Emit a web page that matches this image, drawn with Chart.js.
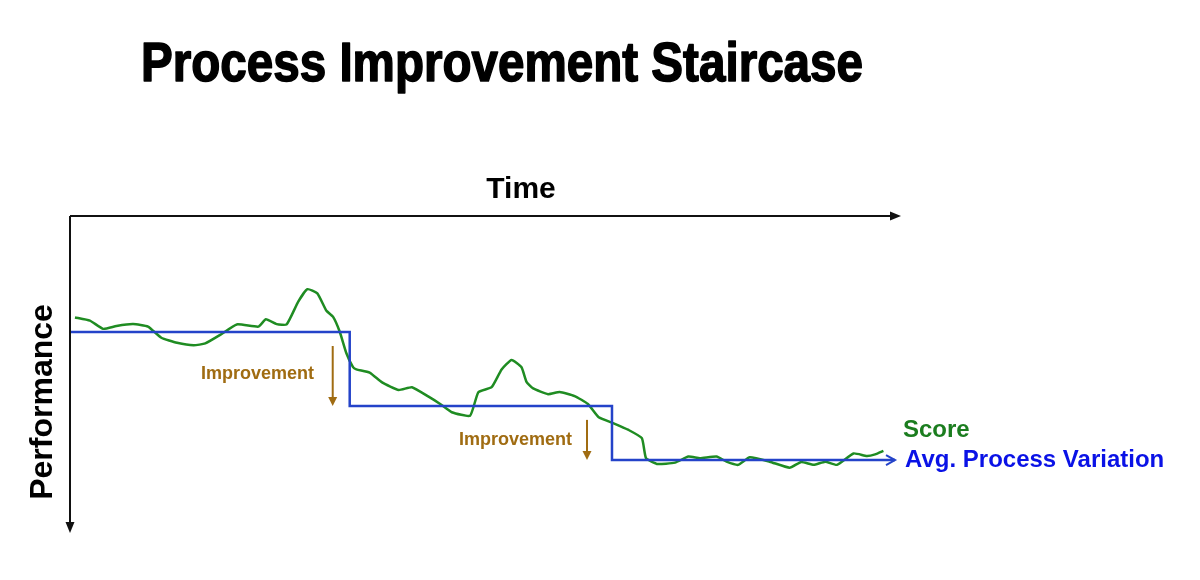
<!DOCTYPE html>
<html>
<head>
<meta charset="utf-8">
<title>Process Improvement Staircase</title>
<script src="https://cdn.jsdelivr.net/npm/chart.js@4.4.1/dist/chart.umd.min.js"></script>
<style>
  html, body { margin: 0; padding: 0; background: #fff; }
  #wrap { width: 1200px; height: 580px; }
</style>
</head>
<body>
<div id="wrap"><canvas id="myChart" width="1200" height="580"></canvas></div>
<script>
/*------------------------------DATA--------------------------------------------*/

// time axis runs 0..100, performance axis runs 0..100 downwards
const timeX = [
    0.6, 2.4, 4.0, 5.6, 7.6, 9.4, 11.0, 12.9, 14.9, 16.3,
    18.1, 20.1, 22.7, 23.6, 24.9, 26.1, 27.5, 28.6, 29.8, 30.9,
    31.7, 32.5, 33.3, 34.1, 34.5, 36.1, 37.6, 39.6, 41.2, 43.2,
    44.6, 46.0, 48.2, 49.2, 50.8, 52.0, 53.2, 54.4, 55.0, 55.8,
    57.6, 59.0, 60.8, 62.4, 63.7, 65.5, 67.3, 68.9, 69.4, 70.7,
    72.9, 74.5, 75.9, 77.9, 79.1, 80.5, 81.9, 84.3, 86.7, 88.1,
    89.6, 91.0, 92.4, 94.4, 96.0, 97.0, 98.0
];

const score = [
    32.0, 33.0, 35.6, 34.7, 34.1, 34.9, 38.4, 40.0, 40.8, 40.2,
    37.5, 34.2, 34.9, 32.6, 34.1, 34.2, 27.0, 23.1, 24.4, 29.9,
    31.8, 36.5, 43.3, 47.7, 48.4, 49.4, 52.5, 54.9, 54.0, 57.0,
    59.3, 61.9, 63.0, 55.6, 54.0, 48.4, 45.4, 47.7, 52.3, 54.4,
    56.2, 55.5, 56.8, 59.3, 63.5, 65.4, 67.5, 70.1, 76.4, 78.2,
    77.8, 75.9, 76.4, 75.9, 77.5, 78.5, 76.1, 77.5, 79.4, 77.6,
    78.5, 77.5, 78.5, 74.9, 75.7, 75.2, 74.1
];

// average process variation: one level per stage
const stepX = [0, 33.7, 65.3, 99.4];
const avgVariation = [36.6, 59.9, 77.0, 77.0];

// the two improvements: from stage i to stage i+1
const improvementStages = [0, 1];

/*------------------------------HELPERS--------------------------------------------*/

function arrowHead(ctx, x, y, dir, len, half, fill) {
    // dir: 'right' or 'down'
    ctx.beginPath();
    if (dir === 'right') {
        ctx.moveTo(x - len, y - half);
        ctx.lineTo(x, y);
        ctx.lineTo(x - len, y + half);
    } else {
        ctx.moveTo(x - half, y - len);
        ctx.lineTo(x, y);
        ctx.lineTo(x + half, y - len);
    }
    if (fill) {
        ctx.closePath();
        ctx.fill();
    } else {
        ctx.stroke();
    }
}

const staircaseDecor = {
    id: 'staircaseDecor',
    afterDraw(chart) {
        const ctx = chart.ctx;
        const area = chart.chartArea;
        const xs = chart.scales.x;
        const ys = chart.scales.y;
        ctx.save();

        // axes with arrows
        ctx.strokeStyle = '#111';
        ctx.fillStyle = '#111';
        ctx.lineWidth = 2;
        ctx.beginPath();
        ctx.moveTo(area.left, area.top);
        ctx.lineTo(area.right - 6, area.top);
        ctx.moveTo(area.left, area.top);
        ctx.lineTo(area.left, area.bottom - 6);
        ctx.stroke();
        arrowHead(ctx, area.right + 1, area.top, 'right', 11, 4.5, true);
        arrowHead(ctx, area.left, area.bottom, 'down', 11, 4.5, true);

        // arrow head at the end of the blue staircase
        const endX = xs.getPixelForValue(stepX[stepX.length - 1]);
        const endY = ys.getPixelForValue(avgVariation[avgVariation.length - 1]);
        ctx.strokeStyle = '#2443c9';
        ctx.lineWidth = 2;
        arrowHead(ctx, endX, endY, 'right', 9, 5, false);

        // improvement arrows and labels
        const arrowGap = [17, 25];
        const labelPos = [[201, 379], [459, 445]];
        ctx.strokeStyle = '#a06c12';
        ctx.fillStyle = '#a06c12';
        ctx.font = 'bold 18px "Liberation Sans", Arial, sans-serif';
        ctx.textAlign = 'left';
        ctx.textBaseline = 'alphabetic';
        improvementStages.forEach(function (i) {
            const ax = xs.getPixelForValue(stepX[i + 1]) - arrowGap[i];
            const yTo = ys.getPixelForValue(avgVariation[i + 1]);
            const yFrom = ys.getPixelForValue(avgVariation[i]) + 14;
            ctx.lineWidth = 2;
            ctx.beginPath();
            ctx.moveTo(ax, yFrom);
            ctx.lineTo(ax, yTo - 6);
            ctx.stroke();
            arrowHead(ctx, ax, yTo, 'down', 9, 4.5, true);
            ctx.fillText('Improvement', labelPos[i][0], labelPos[i][1]);
        });

        // title, condensed to the width of the original
        ctx.fillStyle = '#000';
        ctx.strokeStyle = '#000';
        ctx.font = 'bold 56px "Liberation Sans", Arial, sans-serif';
        const title = 'Process Improvement Staircase';
        const tw = ctx.measureText(title).width;
        ctx.save();
        ctx.translate(141, 81);
        ctx.scale(722 / tw, 1);
        ctx.lineWidth = 1.6;
        ctx.lineJoin = 'round';
        ctx.fillText(title, 0, 0);
        ctx.strokeText(title, 0, 0);
        ctx.restore();

        // axis labels
        ctx.font = 'bold 30px "Liberation Sans", Arial, sans-serif';
        ctx.textAlign = 'center';
        ctx.fillText('Time', 521, 198);

        ctx.save();
        ctx.translate(52, 402);
        ctx.rotate(-Math.PI / 2);
        ctx.font = 'bold 32px "Liberation Sans", Arial, sans-serif';
        ctx.fillText('Performance', 0, 0);
        ctx.restore();

        // series labels
        ctx.textAlign = 'left';
        ctx.font = 'bold 24px "Liberation Sans", Arial, sans-serif';
        ctx.fillStyle = '#1b7d1f';
        ctx.fillText('Score', 903, 437);
        ctx.fillStyle = '#0a12e6';
        ctx.fillText('Avg. Process Variation', 905, 467);

        ctx.restore();
    }
};

/*------------------------------CHART--------------------------------------------*/

const data = {
    datasets: [
        {
            label: 'Avg. Process Variation',
            data: stepX.map((x, i) => ({ x: x, y: avgVariation[i] })),
            borderColor: '#2443c9',
            borderWidth: 2.5,
            stepped: 'before',
            pointRadius: 0,
            fill: false
        },
        {
            label: 'Score',
            data: timeX.map((x, i) => ({ x: x, y: score[i] })),
            borderColor: '#1f8c22',
            borderWidth: 2.5,
            tension: 0.15,
            pointRadius: 0,
            fill: false
        }
    ]
};

const config = {
    type: 'line',
    data: data,
    options: {
        responsive: false,
        animation: false,
        layout: { padding: { left: 70, right: 300, top: 216, bottom: 47 } },
        plugins: {
            legend: { display: false },
            tooltip: { enabled: false },
            title: { display: false }
        },
        scales: {
            x: { type: 'linear', min: 0, max: 100, display: false },
            y: { type: 'linear', min: 0, max: 100, reverse: true, display: false }
        }
    },
    plugins: [staircaseDecor]
};

const myChart = new Chart(document.getElementById('myChart'), config);
</script>
</body>
</html>
